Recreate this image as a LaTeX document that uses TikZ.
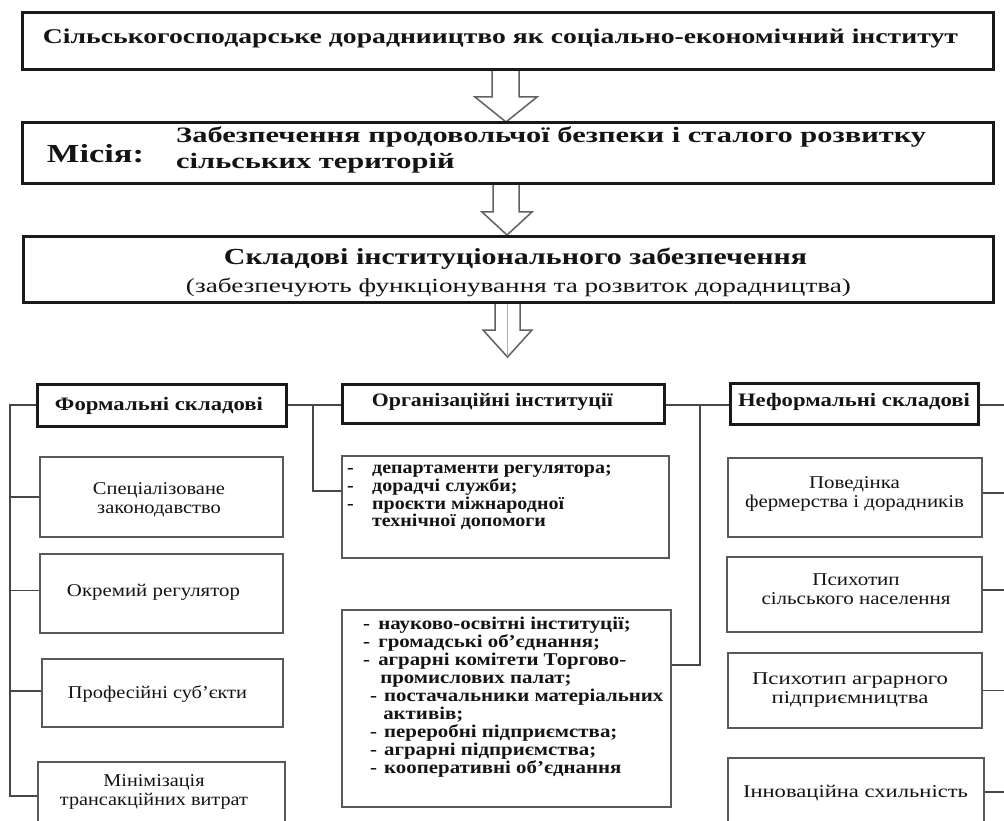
\documentclass[tikz,border=0pt]{standalone}
\usepackage{fontspec}
\setmainfont{Liberation Serif}
\usepackage{graphicx}
\usetikzlibrary{calc}
\newcommand\fw[2]{\resizebox{#1pt}{\height}{#2}}
\begin{document}
\begin{tikzpicture}[x=1pt,y=-1pt,
  thickbox/.style={draw=black!90,line width=3pt,inner sep=0pt},
  thinbox/.style={draw=black!65,line width=1.6pt,inner sep=0pt},
  conn/.style={draw=black!72,line width=1.5pt},
  lbl/.style={inner sep=0pt,text=black!92},
  blockarrow/.style={draw=black!62,line width=1.5pt,fill=white,line join=miter}]
\useasboundingbox (0,0) rectangle (1004,821);
\clip (0,0) rectangle (1004,821);
\fill[white] (0,0) rectangle (1004,821);

% block arrows
\draw[blockarrow] (492,70) -- (492,97) -- (475,97) -- (506,122) -- (537,97) -- (519,97) -- (519,70);
\draw[blockarrow] (493,184) -- (493,212) -- (482,212) -- (507,235) -- (532,212) -- (519,212) -- (519,184);
\draw[blockarrow] (495,302) -- (495,330) -- (483,330) -- (507.5,357) -- (532,330) -- (520,330) -- (520,302);
\draw[black!30,line width=0.8pt] (507.5,303) -- (507.5,356);

% top boxes
\node[thickbox,minimum width=971pt,minimum height=57pt] (top) at (507.5,41.5) {};
\node[lbl] (top-t) at (500.5,38.5) {\fontsize{21}{24}\selectfont\bfseries\fw{915}{Сільськогосподарське дорадниицтво як соціально-економічний інститут}};

\node[thickbox,minimum width=971pt,minimum height=61pt] (mis) at (507.5,153.5) {};
\node[lbl] (mis-l) at (95.5,154) {\fontsize{26}{30}\selectfont\bfseries\fw{97}{Місія:}};
\node[lbl,anchor=west] (mis-t) at (176,150) {\fontsize{22}{26}\selectfont\bfseries\fw{750}{\begin{tabular}{@{}l@{}}Забезпечення продовольчої безпеки і сталого розвитку\\сільських територій\end{tabular}}};

\node[thickbox,minimum width=970pt,minimum height=65pt] (sk) at (508,269.5) {};
\node[lbl] (sk-t) at (515.5,258.5) {\fontsize{23}{26}\selectfont\bfseries\fw{583}{Складові інституціонального забезпечення}};
\node[lbl] (sk-s) at (518.5,287) {\fontsize{20}{23}\selectfont\fw{665}{(забезпечують функціонування та розвиток дорадництва)}};

% column titles
\node[thickbox,minimum width=249pt,minimum height=42pt] (F) at (161.5,405) {};
\node[lbl] at (159,406) {\fontsize{19}{22}\selectfont\bfseries\fw{208}{Формальні складові}};
\node[thickbox,minimum width=322pt,minimum height=39pt] (O) at (503,403.5) {};
\node[lbl] at (492.5,402) {\fontsize{19}{22}\selectfont\bfseries\fw{241}{Організаційні інституції}};
\node[thickbox,minimum width=248pt,minimum height=41pt] (I) at (854,403.5) {};
\node[lbl] at (854,402) {\fontsize{19}{22}\selectfont\bfseries\fw{232}{Неформальні складові}};

% formal column
\node[thinbox,minimum width=243pt,minimum height=80pt] (f1) at (161.5,497) {};
\node[lbl] at (159,500.5) {\fontsize{18}{19}\selectfont\fw{132}{\begin{tabular}{@{}c@{}}Спеціалізоване\\законодавство\end{tabular}}};
\node[thinbox,minimum width=243pt,minimum height=79pt] (f2) at (161.5,593.5) {};
\node[lbl] at (153.5,592) {\fontsize{18}{19}\selectfont\fw{173}{Окремий регулятор}};
\node[thinbox,minimum width=241pt,minimum height=68pt] (f3) at (162.5,693) {};
\node[lbl] at (157.5,694) {\fontsize{18}{19}\selectfont\fw{179}{Професійні суб'єкти}};
\node[thinbox,minimum width=247pt,minimum height=68pt] (f4) at (161.5,796) {};
\node[lbl] at (154,792.5) {\fontsize{18}{19}\selectfont\fw{188}{\begin{tabular}{@{}c@{}}Мінімізація\\трансакційних витрат\end{tabular}}};

% organisational column
\node[thinbox,minimum width=327pt,minimum height=102pt] (d1) at (505.5,507) {};
\node[lbl,anchor=west] at (347,497) {\fontsize{18}{17}\selectfont\bfseries\scalebox{1.11}[1]{\begin{tabular}{@{}l@{}}\makebox[22.5pt][l]{-}департаменти регулятора;\\\makebox[22.5pt][l]{-}дорадчі служби;\\\makebox[22.5pt][l]{-}проєкти міжнародної\\\hspace*{22.5pt}технічної допомоги\end{tabular}}};
\node[thinbox,minimum width=329pt,minimum height=197pt] (d2) at (506.5,708.5) {};
\node[lbl,anchor=west] at (363,698) {\fontsize{18}{17.9}\selectfont\bfseries\scalebox{1.16}[1]{\begin{tabular}{@{}l@{}}\makebox[13pt][l]{-}науково-освітні інституції;\\\makebox[13pt][l]{-}громадські об'єднання;\\\makebox[13pt][l]{-}аграрні комітети Торгово-\\\hspace*{14.7pt}промислових палат;\\\hspace*{6pt}\makebox[12.1pt][l]{-}постачальники матеріальних\\\hspace*{17.3pt}активів;\\\hspace*{6pt}\makebox[12.1pt][l]{-}переробні підприємства;\\\hspace*{6pt}\makebox[12.1pt][l]{-}аграрні підприємства;\\\hspace*{6pt}\makebox[12.1pt][l]{-}кооперативні об'єднання\end{tabular}}};

% informal column
\node[thinbox,minimum width=254pt,minimum height=79pt] (n1) at (855,497.5) {};
\node[lbl] at (854.5,494) {\fontsize{18}{19}\selectfont\fw{219}{\begin{tabular}{@{}c@{}}Поведінка\\фермерства і дорадників\end{tabular}}};
\node[thinbox,minimum width=255pt,minimum height=75pt] (n2) at (854.5,594.5) {};
\node[lbl] at (856,591) {\fontsize{18}{19}\selectfont\fw{189}{\begin{tabular}{@{}c@{}}Психотип\\сільського населення\end{tabular}}};
\node[thinbox,minimum width=254pt,minimum height=75pt] (n3) at (855,690.5) {};
\node[lbl] at (850,690) {\fontsize{18}{19}\selectfont\fw{196}{\begin{tabular}{@{}c@{}}Психотип аграрного\\підприємництва\end{tabular}}};
\node[thinbox,minimum width=256pt,minimum height=68pt] (n4) at (856,792) {};
\node[lbl] at (855.5,793) {\fontsize{18}{19}\selectfont\fw{225}{Інноваційна схильність}};

% connectors
\coordinate (L) at (10,0);
\coordinate (B1) at (313,0);
\coordinate (B2) at (700,0);
\coordinate (R) at (1004,0);
\draw[conn] (F.west) -- (F.west -| L) -- (L |- f4.west) -- (f4.west);
\draw[conn] (f1.west) -- (f1.west -| L);
\draw[conn] ([yshift=3pt]f2.west) -- ([yshift=3pt]f2.west -| L);
\draw[conn] ([yshift=2pt]f3.west) -- ([yshift=2pt]f3.west -| L);
\draw[conn] (F.east) -- (F.east -| O.west);
\draw[conn] (F.east -| B1) |- ([yshift=16pt]d1.west);
\draw[conn] ([yshift=-1.5pt]O.east) -- ([yshift=-1.5pt]O.east -| I.west);
\draw[conn] ([yshift=-1.5pt]O.east -| B2) |- ([yshift=43.5pt]d2.east);
\draw[conn] ([yshift=-1.5pt]I.east) -- ([yshift=-1.5pt]I.east -| R);
\draw[conn] ([yshift=4.5pt]n1.east) -- ([yshift=4.5pt]n1.east -| R);
\draw[conn] ([yshift=4.5pt]n2.east) -- ([yshift=4.5pt]n2.east -| R);
\draw[conn] (n3.east) -- (n3.east -| R);
\draw[conn] (n4.east) -- (n4.east -| R);
\end{tikzpicture}
\end{document}
